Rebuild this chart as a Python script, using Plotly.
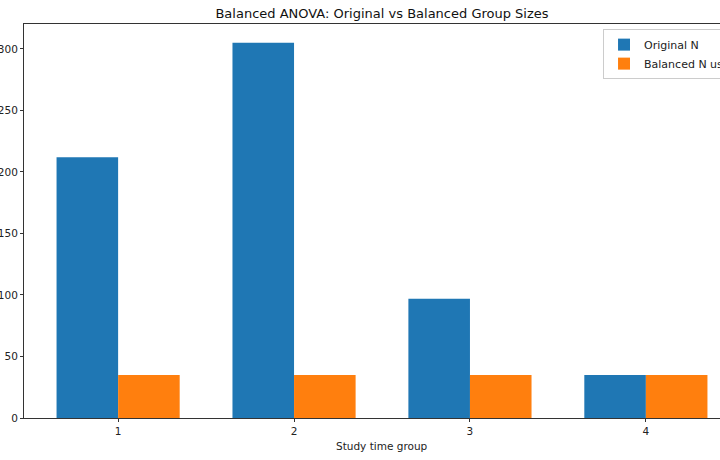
import plotly.graph_objects as go

groups = [1, 2, 3, 4]
original_n = [212, 305, 97, 35]
balanced_n = [35, 35, 35, 35]

blue = '#1f77b4'
orange = '#ff7f0e'
axis_col = '#333333'
font = 'DejaVu Sans'

fig = go.Figure()
fig.add_trace(go.Bar(x=groups, y=original_n, name='Original N', marker_color=blue, marker_line_width=0))
fig.add_trace(go.Bar(x=groups, y=balanced_n, name='Balanced N used', marker_color=orange, marker_line_width=0))

# the reference is a crop: the figure runs ~20px past the right edge of the window,
# so draw it 740 wide and let the page clip it at 720
fig.update_layout(
    width=740, height=460,
    margin=dict(l=24, r=0, t=24, b=42, autoexpand=False),
    paper_bgcolor='white', plot_bgcolor='white',
    barmode='group', bargap=0.3, bargroupgap=0,
    font=dict(family=font, size=10, color='#222222'),
    title=dict(text='Balanced ANOVA: Original vs Balanced Group Sizes',
               x=0.5, xref='paper', xanchor='center',
               y=1 - 13 / 460, yref='container', yanchor='middle',
               font=dict(size=13, color='#111111')),
    legend=dict(x=0.8087, y=0.987, xanchor='left', yanchor='top',
                bgcolor='white', bordercolor='#cccccc', borderwidth=1,
                font=dict(size=11), itemwidth=30, tracegroupgap=0),
    showlegend=True,
)
fig.update_xaxes(range=[0.465, 4.535], tickmode='array', tickvals=groups,
                 ticks='outside', ticklen=3, tickcolor=axis_col,
                 showline=True, linecolor=axis_col, linewidth=1, mirror=True,
                 showgrid=False, zeroline=False, automargin=False,
                 tickfont=dict(size=10.5))
fig.update_yaxes(range=[0, 320.3], tickmode='array', tickvals=[0, 50, 100, 150, 200, 250, 300],
                 ticks='outside', ticklen=3, tickcolor=axis_col,
                 showline=True, linecolor=axis_col, linewidth=1, mirror=True,
                 showgrid=False, zeroline=False, automargin=False,
                 tickfont=dict(size=10.5))
fig.add_annotation(text='Study time group', xref='paper', yref='paper',
                   x=0.5, y=-28 / 394, xanchor='center', yanchor='middle',
                   showarrow=False, font=dict(size=10.5))

# drop the default 8px body margin and clip whatever runs past the window
fig.write_html("out.html", config={'displayModeBar': False},
               post_script="document.body.style.margin='0';"
                           "document.body.style.overflow='hidden';"
                           "document.documentElement.style.overflow='hidden';")
